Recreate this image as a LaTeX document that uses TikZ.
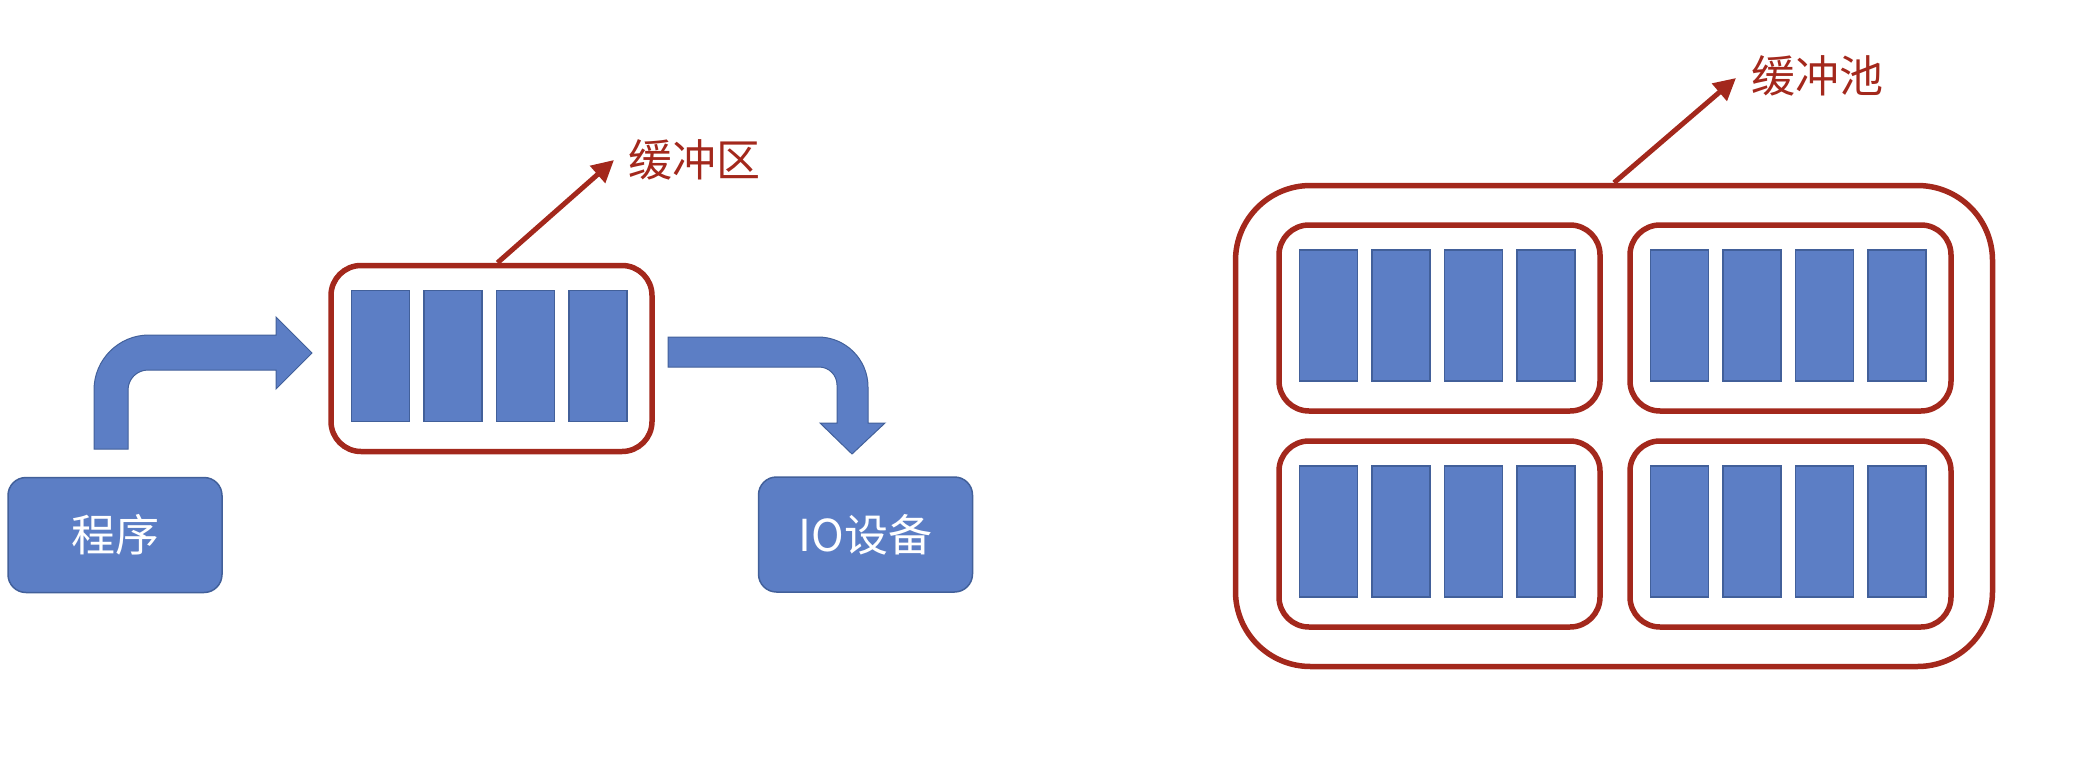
\documentclass[tikz,border=0pt]{standalone}
\usepackage{fontspec}
\newfontfamily\cjk{Noto Sans CJK SC}
\usetikzlibrary{arrows.meta}
\definecolor{cellblue}{RGB}{92,126,197}
\definecolor{celledge}{RGB}{66,96,154}
\definecolor{poolred}{RGB}{163,40,28}
\tikzset{
  cell/.style={rectangle, fill=cellblue, draw=celledge, line width=1.5pt,
    minimum width=58pt, minimum height=131pt, inner sep=0pt},
  holder/.style={rectangle, rounded corners=30pt, draw=poolred, line width=5.5pt,
    minimum width=321pt, minimum height=186pt, inner sep=0pt},
  actor/.style={rectangle, rounded corners=18pt, fill=cellblue, draw=celledge,
    line width=1.5pt, minimum width=214pt, minimum height=115pt, inner sep=0pt,
    text=white, font=\cjk\fontsize{44}{50}\selectfont},
  tag/.style={anchor=west, inner sep=0pt, text=poolred,
    font=\cjk\fontsize{44}{50}\selectfont},
  pointer/.style={draw=poolred, line width=5pt,
    -{Triangle[length=22pt,width=22pt]}},
  bent/.style={fill=cellblue, draw=celledge, line width=1pt}
}
\begin{document}
\begin{tikzpicture}[x=1pt, y=-1pt]
\useasboundingbox (0,0) rectangle (2074,768);

% program and device blocks
\node[actor] (prog) at (115,535) {程序};
\node[actor] (dev) at (865.5,534.5) {IO设备};

% single buffer
\node[holder] (buf) at (491.5,358.5) {};

% buffer pool: outer frame and four buffers
\node[holder, rounded corners=75pt, minimum width=757pt, minimum height=481pt]
  (pool) at (1614,426) {};
\node[holder] (p1) at (1439.5,318) {};
\node[holder] (p2) at (1790.5,318) {};
\node[holder] (p3) at (1439.5,534) {};
\node[holder] (p4) at (1790.5,534) {};

% four cells inside every buffer
\foreach \b in {buf,p1,p2,p3,p4}
  \foreach \i in {1,...,4}
    \node[cell] (\b-\i) at ([xshift={72.5*\i-183.75}, yshift=2.5]\b.center) {};

% labels with their pointers
\node[tag] (buflabel) at (628,160) {缓冲区};
\node[tag] (poollabel) at (1751,76) {缓冲池};
\coordinate (buftip) at (614,160);
\coordinate (pooltip) at (1736,78);
\draw[pointer] ([xshift=6]buf.north) -- (buftip);
\draw[pointer] (pool.north) -- (pooltip);

% bent arrow from the program up into the buffer
\path[bent] (94,449) -- (94,390) arc[start angle=180, end angle=270, radius=55]
  -- (276,335) -- (276,317) -- (312,353) -- (276,389) -- (276,370)
  -- (148,370) arc[start angle=270, end angle=180, radius=20]
  -- (128,449) -- cycle;

% bent arrow from the buffer down to the device
\path[bent] (668,337) -- (818,337) arc[start angle=270, end angle=360, radius=50]
  -- (868,423) -- (885,423) -- (852,454) -- (820,423) -- (837,423)
  -- (837,385) arc[start angle=0, end angle=-90, radius=18]
  -- (668,367) -- cycle;
\end{tikzpicture}
\end{document}
